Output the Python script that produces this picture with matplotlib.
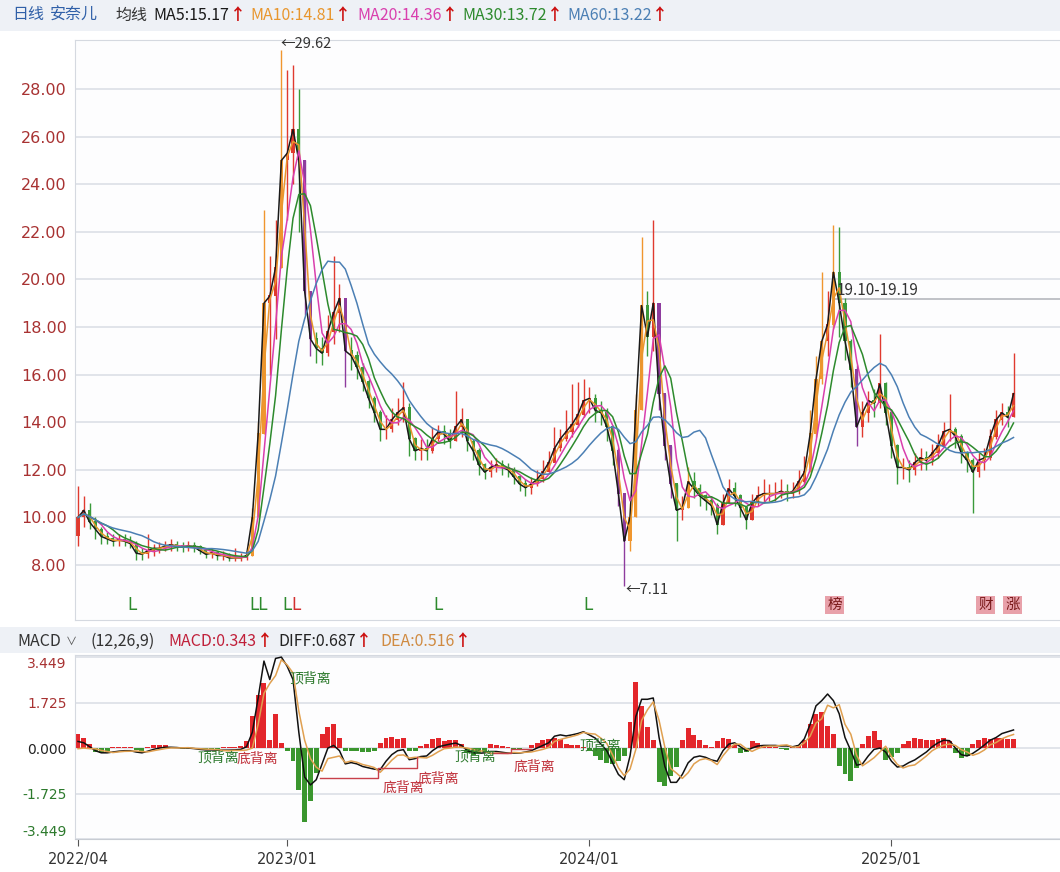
import numpy as np
import pandas as pd
import matplotlib
matplotlib.use("Agg")
import matplotlib.pyplot as plt
from matplotlib.patches import Rectangle

plt.rcParams['font.family'] = ['Noto Sans CJK SC', 'DejaVu Sans']

# weekly bars (2022/04 .. 2025/06)
close = [10.0, 10.3, 9.8, 9.5, 9.2, 9.1, 9.0, 9.05, 9.0, 8.9,
         8.5, 8.45, 8.6, 8.7, 8.7, 8.8, 8.85, 8.8, 8.75, 8.8,
         8.75, 8.6, 8.45, 8.5, 8.4, 8.4, 8.3, 8.3, 8.3, 8.4,
         10.0, 13.5, 19.0, 19.3, 20.5, 25.0, 25.3, 26.3, 25.0, 19.5,
         17.5, 17.1, 16.9, 17.8, 18.6, 19.2, 17.0, 16.8, 16.3, 15.7,
         15.0, 14.4, 13.7, 13.7, 14.1, 14.4, 14.6, 13.3, 12.8, 12.9,
         12.8, 13.3, 13.6, 13.5, 13.2, 13.8, 14.1, 13.2, 12.8, 12.2,
         11.9, 12.1, 12.2, 12.1, 12.0, 11.7, 11.4, 11.25, 11.4, 11.6,
         11.9, 12.3, 12.9, 13.3, 13.6, 13.9, 14.3, 14.9, 15.0, 14.5,
         14.4, 13.8, 12.8, 11.0, 9.0, 10.0, 14.5, 18.9, 17.6, 19.0,
         15.2, 13.0, 11.4, 10.3, 10.4, 11.5, 11.2, 10.9, 10.7, 10.5,
         9.7, 10.6, 11.2, 10.9, 10.4, 9.9, 10.6, 10.9, 11.0, 11.0,
         11.0, 11.1, 11.0, 11.1, 11.5, 11.9, 13.5, 15.8, 17.4, 18.1,
         20.3, 19.0, 17.4, 16.2, 13.8, 14.4, 14.9, 14.8, 15.6, 14.4,
         13.0, 12.1, 12.1, 12.0, 12.3, 12.5, 12.4, 12.7, 13.0, 13.6,
         13.7, 13.4, 12.7, 12.4, 11.9, 12.4, 12.5, 13.4, 14.1, 14.4,
         14.2, 15.2]
high = [11.3, 10.9, 10.6, 10.0, 9.6, 9.4, 9.3, 9.3, 9.3, 9.2,
        9.0, 8.7, 9.3, 8.9, 8.95, 9.0, 9.1, 9.0, 8.95, 9.0,
        8.95, 8.85, 8.7, 8.7, 8.6, 8.6, 8.5, 8.7, 8.5, 8.6,
        10.4, 14.0, 22.9, 21.0, 22.5, 29.62, 28.8, 29.0, 28.0, 25.0,
        19.5, 17.8, 17.6, 18.5, 21.0, 19.8, 18.8, 17.6, 17.0, 16.5,
        15.8, 15.1, 14.5, 14.3, 14.6, 15.0, 15.7, 14.8, 13.4, 13.3,
        13.3, 13.8, 13.9, 13.9, 13.7, 15.3, 14.6, 14.0, 13.3, 12.9,
        12.3, 12.4, 12.5, 12.4, 12.3, 12.1, 11.8, 11.6, 11.7, 12.0,
        12.4, 12.8, 13.8, 13.7, 14.5, 15.6, 15.7, 15.8, 15.5, 15.2,
        14.9, 14.6, 13.9, 12.9, 11.0, 10.6, 15.2, 21.8, 19.5, 22.5,
        19.0, 15.2, 13.0, 11.4, 10.9, 12.1, 11.9, 11.4, 11.0, 10.9,
        10.6, 11.0, 11.6, 11.5, 11.0, 10.4, 11.0, 11.3, 11.6, 11.4,
        11.5, 11.6, 11.4, 11.5, 12.0, 12.6, 14.5, 16.8, 20.3, 19.5,
        22.3, 22.2, 19.2, 17.5, 16.4, 14.9, 15.3, 15.4, 17.7, 15.7,
        14.5, 13.1, 12.5, 12.4, 12.7, 12.9, 12.8, 13.1, 13.5, 14.0,
        15.2, 13.8, 13.5, 12.8, 12.5, 12.7, 12.9, 13.7, 14.5, 14.8,
        14.7, 16.9]
low = [8.8, 9.6, 9.5, 9.1, 8.9, 8.9, 8.8, 8.8, 8.8, 8.7,
       8.2, 8.2, 8.3, 8.4, 8.5, 8.6, 8.6, 8.6, 8.55, 8.6,
       8.55, 8.45, 8.3, 8.3, 8.2, 8.2, 8.15, 8.15, 8.15, 8.2,
       8.4, 10.0, 13.5, 16.0, 17.5, 20.5, 22.5, 24.0, 22.0, 18.5,
       16.8, 16.5, 16.4, 16.8, 17.3, 17.8, 15.5, 16.2, 15.8, 15.3,
       14.6, 14.0, 13.2, 13.3, 13.6, 13.9, 14.0, 12.6, 12.4, 12.4,
       12.4, 12.7, 13.2, 13.1, 12.9, 13.2, 13.4, 12.8, 12.4, 11.8,
       11.6, 11.7, 11.9, 11.8, 11.7, 11.4, 11.1, 10.9, 11.0, 11.3,
       11.5, 11.9, 12.4, 12.8, 13.2, 13.4, 13.8, 14.2, 14.4, 14.0,
       13.9, 13.2, 12.2, 10.5, 7.11, 8.6, 10.0, 14.5, 16.8, 17.0,
       14.5, 12.4, 10.8, 9.0, 9.9, 10.4, 10.8, 10.5, 10.3, 10.1,
       9.3, 9.7, 10.6, 10.5, 10.0, 9.5, 9.9, 10.5, 10.6, 10.7,
       10.7, 10.8, 10.7, 10.8, 11.0, 11.4, 11.9, 13.4, 15.6, 16.8,
       17.9, 17.6, 16.6, 15.5, 13.0, 13.4, 14.0, 14.2, 14.6, 13.9,
       12.5, 11.4, 11.6, 11.5, 11.8, 12.0, 12.0, 12.2, 12.5, 13.0,
       13.2, 12.9, 12.3, 11.9, 10.2, 11.7, 12.0, 12.4, 13.3, 13.9,
       13.8, 14.2]
first_open = 9.2

# MACD panel
diff = [0.25, 0.2, 0.05, -0.1, -0.18, -0.18, -0.15, -0.12, -0.1, -0.1,
        -0.15, -0.18, -0.12, -0.05, 0.0, 0.03, 0.03, 0.02, 0.0, 0.0,
        -0.02, -0.05, -0.07, -0.07, -0.08, -0.08, -0.08, -0.07, -0.05, 0.05,
        0.6, 1.9, 3.3, 2.6, 3.4, 3.45, 3.1, 2.6, 0.6, -1.1,
        -1.4, -1.2, -0.6, 0.0, 0.1, -0.1, -0.6, -0.55, -0.6, -0.7,
        -0.75, -0.8, -0.82, -0.5, -0.25, -0.1, -0.06, -0.44, -0.4, -0.32,
        -0.3, -0.1, 0.05, 0.1, 0.15, 0.19, 0.1, -0.1, -0.18, -0.2,
        -0.18, -0.13, -0.13, -0.16, -0.19, -0.19, -0.19, -0.15, -0.1, 0.0,
        0.1, 0.2, 0.45, 0.5, 0.46, 0.5, 0.55, 0.62, 0.5, 0.38,
        0.15, -0.1, -0.56, -1.0, -1.2, -0.3, 1.2, 1.85, 1.85, 1.9,
        0.4, -0.7, -1.3, -1.3, -1.0, -0.56, -0.35, -0.3, -0.35, -0.45,
        -0.5, -0.1, 0.15, 0.2, 0.05, -0.1, 0.0, 0.08, 0.1, 0.1,
        0.1, 0.08, 0.08, 0.05, 0.1, 0.35, 0.9, 1.6, 1.8, 2.05,
        1.8, 1.3, 0.4, -0.1, -0.65, -0.6, -0.3, -0.05, 0.0, -0.15,
        -0.5, -0.72, -0.68, -0.55, -0.45, -0.3, -0.15, 0.05, 0.2, 0.3,
        0.28, 0.0, -0.25, -0.3, -0.2, -0.05, 0.12, 0.3, 0.4, 0.55,
        0.62, 0.687]
macd = [0.55, 0.4, 0.15, -0.15, -0.18, -0.1, 0.04, 0.05, 0.05, 0.04,
        -0.08, -0.1, 0.05, 0.1, 0.12, 0.1, 0.05, 0.03, -0.02, -0.03,
        -0.02, -0.05, -0.06, -0.05, -0.04, 0.03, 0.05, 0.04, 0.08, 0.25,
        1.2, 2.0, 2.45, 0.3, 1.3, 0.2, -0.1, -0.5, -1.6, -2.8,
        -2.0, -0.95, 0.55, 0.8, 0.9, 0.4, -0.1, -0.12, -0.12, -0.15,
        -0.15, -0.12, 0.2, 0.4, 0.42, 0.35, 0.4, -0.12, -0.1, 0.08,
        0.15, 0.35, 0.38, 0.25, 0.3, 0.3, 0.15, -0.2, -0.25, -0.2,
        -0.1, 0.15, 0.12, 0.08, 0.03, -0.05, -0.02, 0.02, 0.1, 0.2,
        0.3, 0.35, 0.4, 0.35, 0.15, 0.12, 0.1, 0.05, -0.1, -0.3,
        -0.45, -0.55, -0.6, -0.5, -0.3, 1.0, 2.5, 1.6, 0.8, 0.3,
        -1.3, -1.45, -1.05, -0.7, 0.3, 0.75, 0.5, 0.3, 0.1, 0.05,
        0.25, 0.38, 0.35, 0.1, -0.19, -0.15, 0.25, 0.2, 0.08, 0.05,
        0.05, -0.05, -0.08, 0.03, 0.1, 0.3, 0.9, 1.3, 1.38, 0.85,
        0.55, -0.69, -1.0, -1.25, -0.75, 0.15, 0.45, 0.63, 0.3, -0.44,
        -0.35, -0.2, 0.15, 0.25, 0.38, 0.35, 0.3, 0.3, 0.35, 0.38,
        0.25, -0.2, -0.38, -0.3, 0.15, 0.3, 0.38, 0.35, 0.38, 0.4,
        0.35, 0.343]

ma_days = [5, 10, 20, 30, 60]
ma_colors = ['#1a1a1a', '#e8962e', '#d93fae', '#2d8a2d', '#4b7fb4']
header_ma = ['MA5:15.17', 'MA10:14.81', 'MA20:14.36', 'MA30:13.72', 'MA60:13.22']

tick_pos = [0, 36, 88, 140]
tick_lab = ['2022/04', '2023/01', '2024/01', '2025/01']

# signal letters under the candles: (week, text, colour)
signals = [(9.3, 'L', '#2d8a2d'), (31.0, 'LL', '#2d8a2d'),
           (36.0, 'L', '#2d8a2d'), (37.6, 'L', '#d23030'), (62.0, 'L', '#2d8a2d'),
           (87.8, 'L', '#2d8a2d')]
tags = [(130.2, '榜'), (156.2, '财'), (160.8, '涨')]

# divergence labels in MACD panel: (week, value, text, colour)
div_labels = [(20.6, -0.35, '顶背离', '#2d7a2d'), (27.3, -0.42, '底背离', '#c0303a'),
              (36.3, 2.65, '顶背离', '#2d7a2d'), (52.4, -1.50, '底背离', '#c0303a'),
              (58.5, -1.15, '底背离', '#c0303a'), (64.8, -0.30, '顶背离', '#2d7a2d'),
              (75.0, -0.72, '底背离', '#c0303a'), (86.3, 0.10, '顶背离', '#2d7a2d')]
div_lines = [[(41.6, -1.12), (51.6, -1.12), (51.6, -0.75), (58.3, -0.75), (58.3, -0.35)],
             [(71.5, -0.20), (74.5, -0.20), (74.5, -0.05), (78.0, -0.05)]]

W, H = 1060, 872
fig = plt.figure(figsize=(W / 100, H / 100), dpi=100)
fig.patch.set_facecolor('white')
num_font = ['DejaVu Sans']


def box(x0, y0, x1, y1):
    return [x0 / W, 1 - y1 / H, (x1 - x0) / W, (y1 - y0) / H]


def px(x, y):
    return x / W, 1 - y / H


# header strips
for y0, y1 in [(0, 31), (627, 653)]:
    fig.patches.append(Rectangle((0, 1 - y1 / H), 1, (y1 - y0) / H, transform=fig.transFigure,
                                 facecolor='#eef1f6', edgecolor='none', zorder=0))

s = pd.Series(close)
opens = np.array([first_open] + close[:-1])
c = np.array(close)
idx = np.arange(len(close))

ax = fig.add_axes(box(75, 40, 1060, 620))
ax.set_xlim(-0.52, 169.0)
ax.set_ylim(5.69, 30.06)
ax.set_yticks(np.arange(8, 29, 2))
ax.set_yticklabels(['%.2f' % v for v in np.arange(8, 29, 2)], color='#a83232', fontsize=11.5,
                   family=num_font)
ax.set_xticks([])
ax.grid(axis='y', color='#dcdfe6', lw=1.2)
ax.tick_params(axis='y', length=0, pad=6)
ax.spines['right'].set_visible(False)
for sp in ['left', 'top', 'bottom']:
    ax.spines[sp].set_color('#d5d9e0')
ax.set_facecolor('#fdfdfe')

chg = c / opens - 1
cols = []
for o, cl, ch in zip(opens, c, chg):
    if ch > 0.10:
        cols.append('#f0962e')
    elif ch < -0.10:
        cols.append('#8e3c9e')
    elif cl >= o:
        cols.append('#e03a2f')
    else:
        cols.append('#3a9a3a')
ax.vlines(idx, low, high, colors=cols, lw=1.0, zorder=2)
ax.bar(idx, np.abs(c - opens) + 0.03, bottom=np.minimum(c, opens), width=0.55,
       color=cols, zorder=2)

for n, col in zip(ma_days, ma_colors):
    ma = s.rolling(max(1, n // 5), min_periods=1).mean()
    ax.plot(idx, ma, color=col, lw=1.1, zorder=3)

ax.text(34.9, 29.9, '←29.62', fontsize=10.5, color='#333333', va='center', ha='left')
ax.text(94.2, 6.95, '←7.11', fontsize=10.5, color='#333333', va='center', ha='left')
ax.text(130.6, 19.55, '19.10-19.19', fontsize=11, color='#333333', va='center', ha='left')
ax.plot([130.3, 169], [19.17, 19.17], color='#b5b8be', lw=1.2, zorder=1)

for x, t, col in signals:
    ax.text(x, 6.3, t, color=col, fontsize=12, ha='center', va='center', family='DejaVu Sans')
for x, t in tags:
    ax.text(x, 6.32, t, color='#7a1a1a', fontsize=10.5, ha='center', va='center',
            bbox=dict(boxstyle='square,pad=0.15', facecolor='#e8a1aa', edgecolor='none'))

# MACD panel
diff = np.array(diff)
macd = np.array(macd)
dea = diff - macd / 2

mx = fig.add_axes(box(75, 655, 1060, 839))
mx.set_xlim(-0.52, 169.0)
mx.set_ylim(-3.43, 3.53)
mx.set_facecolor('#fdfdfe')
mticks = [-3.449, -1.725, 0.0, 1.725, 3.449]
mx.set_yticks(mticks)
mx.set_yticklabels(['%.3f' % v for v in mticks], fontsize=10, family=num_font)
tl = mx.get_yticklabels()
for lab, v in zip(tl, mticks):
    lab.set_color('#a83232' if v > 0 else ('#2d7a2d' if v < 0 else '#222222'))
tl[0].set_va('bottom')
tl[-1].set_va('top')
mx.grid(axis='y', color='#dcdfe6', lw=1.2)
mx.tick_params(axis='y', length=0, pad=6)
mx.tick_params(axis='x', length=5, color='#555555', pad=4, labelcolor='#333333')
mx.set_xticks(tick_pos)
mx.set_xticklabels(tick_lab, fontsize=10.5, family=num_font)
mx.spines['right'].set_visible(False)
for sp in ['left', 'top']:
    mx.spines[sp].set_color('#d5d9e0')
mx.spines['bottom'].set_color('#c8ccd3')

bar_cols = ['#e3262b' if v >= 0 else '#3a962e' for v in macd]
mx.bar(idx, macd, width=0.85, color=bar_cols, zorder=2)
mx.plot(idx, diff, color='#111111', lw=1.1, zorder=3)
mx.plot(idx, dea, color='#e0a050', lw=1.1, zorder=3)
for x, y, t, col in div_labels:
    mx.text(x, y, t, color=col, fontsize=10, ha='left', va='center', zorder=4)
for pts in div_lines:
    xs, ys = zip(*pts)
    mx.plot(xs, ys, color='#c8404a', lw=1.0, zorder=3)

# header rows: text followed directly by a red arrow
renderer = fig.canvas.get_renderer()


def label_arrow(x, y, t, col, size=11.5):
    tx = fig.text(*px(x, y), t, color=col, fontsize=size, va='center', ha='left')
    bb = tx.get_window_extent(renderer=renderer)
    fig.text(bb.x1 / W + 0.0005, 1 - y / H, '↑', color='#cc1010', fontsize=size,
             fontweight='bold', va='center', ha='left')


for x, t, col in [(12, '日线', '#3060a8'), (50, '安奈儿', '#3060a8'), (115, '均线', '#333333')]:
    fig.text(*px(x, 15), t, color=col, fontsize=11.5, va='center', ha='left')
for x, t, col in zip([153, 250, 357, 462, 567], header_ma, ma_colors):
    label_arrow(x, 15, t, col)

fig.text(*px(17, 641), 'MACD', color='#333333', fontsize=11.5, va='center', ha='left')
fig.text(*px(66, 642), '∨', color='#555555', fontsize=8, va='center', ha='left')
fig.text(*px(90, 641), '(12,26,9)', color='#333333', fontsize=11.5, va='center', ha='left')
for x, t, col in [(168, 'MACD:0.343', '#c0203a'), (278, 'DIFF:0.687', '#222222'),
                  (380, 'DEA:0.516', '#d08a40')]:
    label_arrow(x, 641, t, col)

fig.savefig('out.png', dpi=100)
